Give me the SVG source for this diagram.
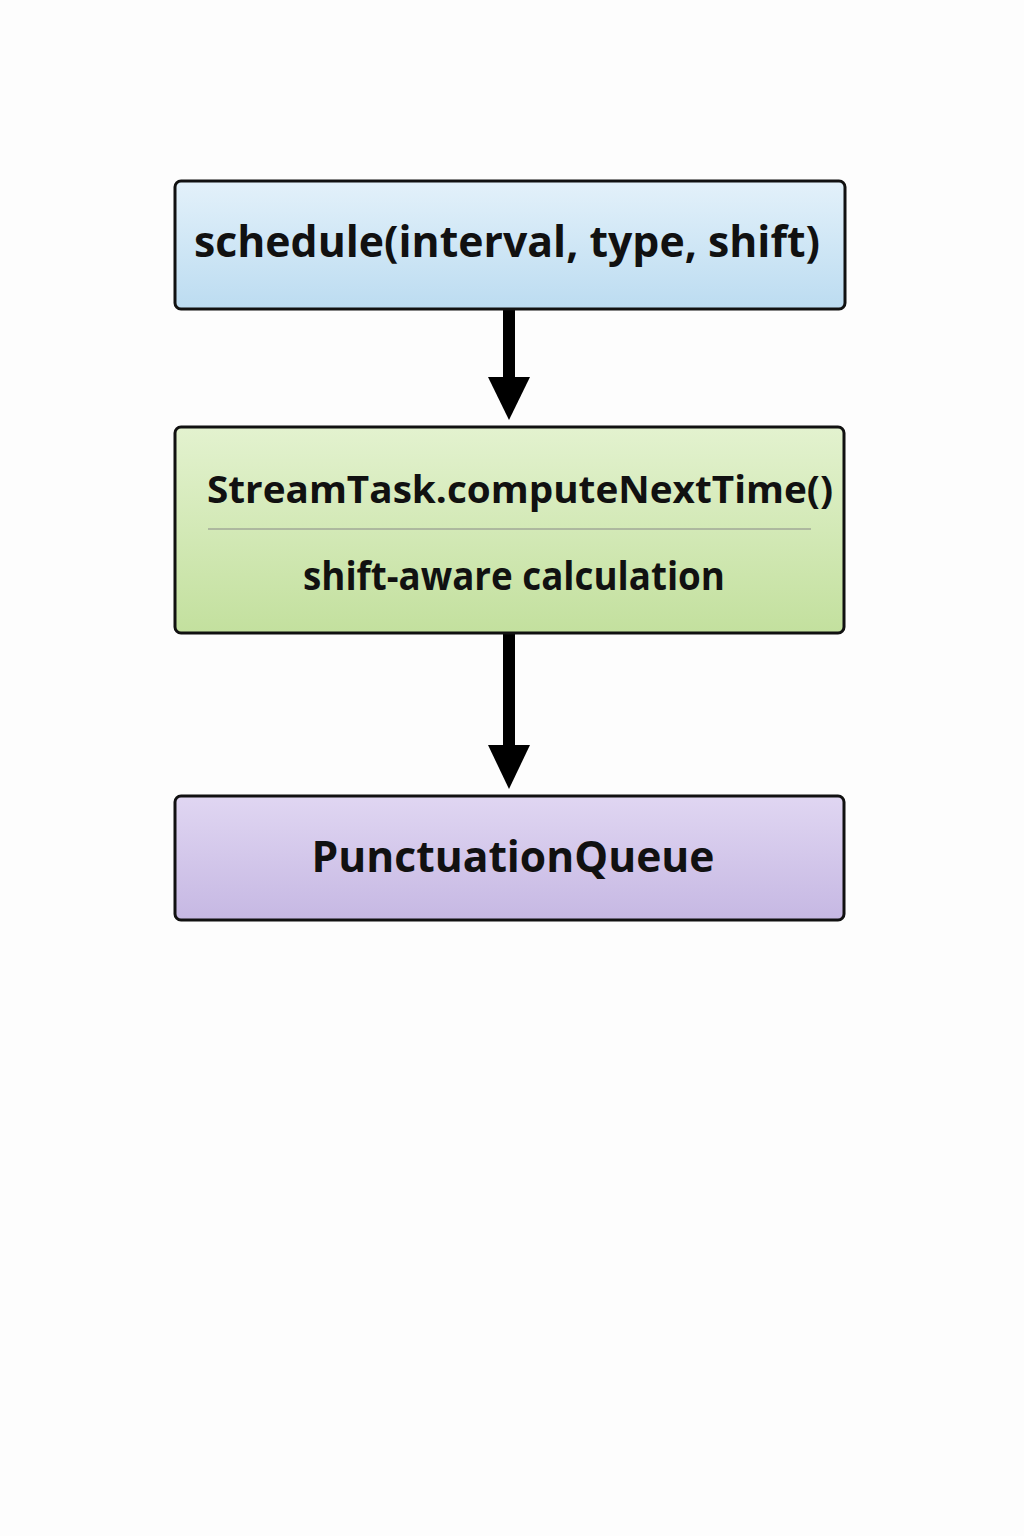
<svg xmlns="http://www.w3.org/2000/svg" width="1024" height="1536" viewBox="0 0 1024 1536">
<defs>
<linearGradient id="gBlue" x1="0" y1="0" x2="0" y2="1"><stop offset="0" stop-color="#e3f1fa"/><stop offset="1" stop-color="#bcdcf1"/></linearGradient>
<linearGradient id="gGreen" x1="0" y1="0" x2="0" y2="1"><stop offset="0" stop-color="#e3f2cf"/><stop offset="1" stop-color="#c3e09e"/></linearGradient>
<linearGradient id="gPurple" x1="0" y1="0" x2="0" y2="1"><stop offset="0" stop-color="#e0d6f2"/><stop offset="1" stop-color="#c6b8e3"/></linearGradient>
<style>
.box{stroke:#111;stroke-width:3}
.t{font-family:"Open Sans","Noto Sans",sans-serif;font-weight:700;fill:#111;text-anchor:middle}
</style>
</defs>
<rect width="1024" height="1536" fill="#fdfdfd"/>
<g id="connectors">
<rect x="503" y="309" width="12" height="70" fill="#000"/>
<polygon points="488,377 530,377 509,420" fill="#000"/>
<rect x="503" y="633" width="12" height="114" fill="#000"/>
<polygon points="488,745 530,745 509,789" fill="#000"/>
</g>
<g id="node-schedule">
<rect class="box" x="175" y="181" width="670" height="128" rx="6" fill="url(#gBlue)"/>
<text class="t" x="507" y="257" font-size="42.5" textLength="626" lengthAdjust="spacingAndGlyphs">schedule(interval, type, shift)</text>
</g>
<g id="node-compute">
<rect class="box" x="175" y="427" width="669" height="206" rx="6" fill="url(#gGreen)"/>
<text class="t" x="520" y="503" font-size="38.3" textLength="626" lengthAdjust="spacingAndGlyphs">StreamTask.computeNextTime()</text>
<line x1="208" y1="529" x2="811" y2="529" stroke="#888" stroke-width="1.2"/>
<text class="t" x="514" y="590" font-size="38.5" font-weight="600" textLength="422" lengthAdjust="spacingAndGlyphs">shift-aware calculation</text>
</g>
<g id="node-queue">
<rect class="box" x="175" y="796" width="669" height="124" rx="6" fill="url(#gPurple)"/>
<text class="t" x="513" y="872" font-size="42.2" textLength="403" lengthAdjust="spacingAndGlyphs">PunctuationQueue</text>
</g>
</svg>
